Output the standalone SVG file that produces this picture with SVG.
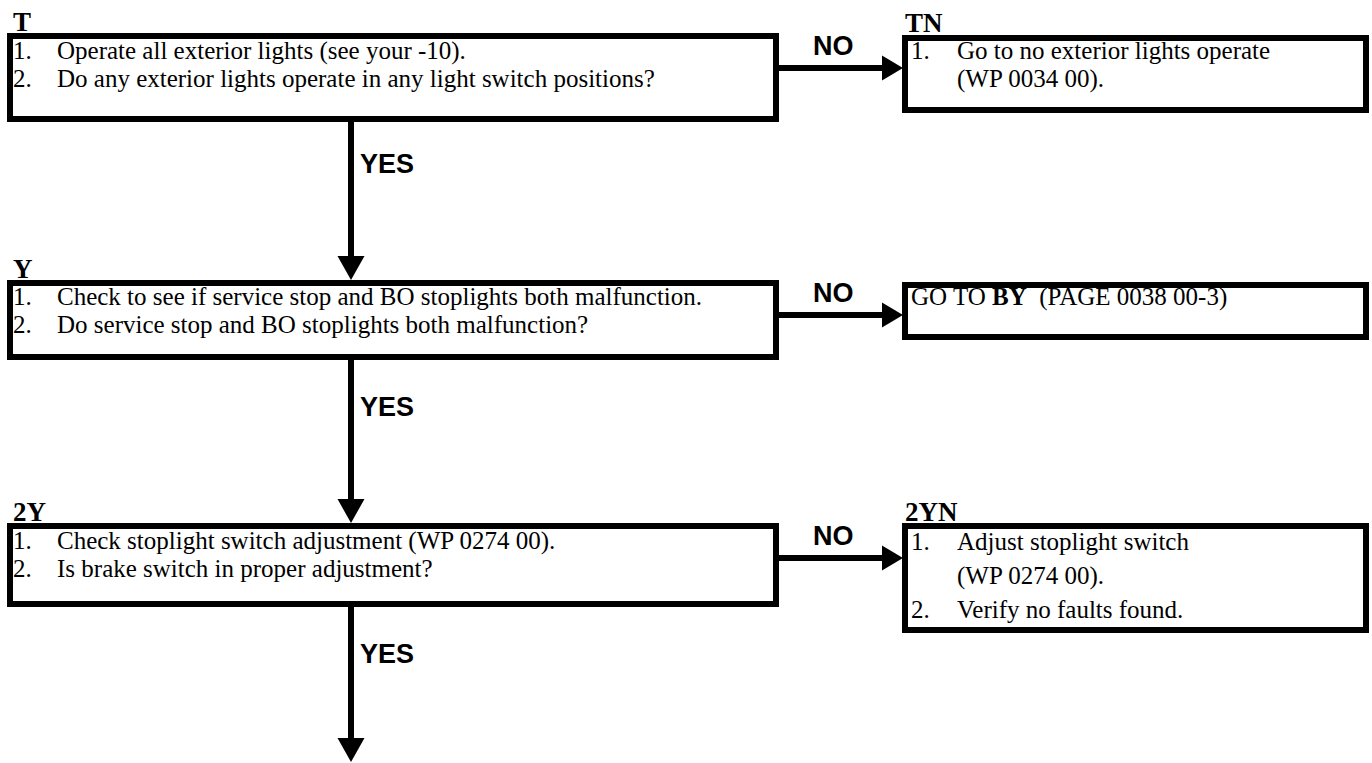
<svg xmlns="http://www.w3.org/2000/svg" width="1372" height="763" viewBox="0 0 1372 763">
<style>
.box{fill:#fff;stroke:#000;stroke-width:6}
.t{font-family:"Liberation Serif","Times New Roman",serif;font-size:25px;fill:#000}
.lbl{font-family:"Liberation Serif","Times New Roman",serif;font-size:27px;font-weight:bold;fill:#000}
.yn{font-family:"Liberation Sans",Arial,sans-serif;font-size:27px;font-weight:bold;fill:#000}
.ln{stroke:#000;stroke-width:6;fill:none}
.ah{fill:#000}
</style>
<rect width="1372" height="763" fill="#fff"/>
<g id="connectors">
<line class="ln" x1="779" y1="68" x2="884" y2="68"/><polygon class="ah" points="882,55.5 903,68 882,80.5"/>
<line class="ln" x1="351" y1="122" x2="351" y2="258"/><polygon class="ah" points="337.5,256 364.5,256 351,280"/>
<line class="ln" x1="779" y1="315" x2="884" y2="315"/><polygon class="ah" points="882,302.5 903,315 882,327.5"/>
<line class="ln" x1="351" y1="360" x2="351" y2="501"/><polygon class="ah" points="337.5,499 364.5,499 351,523"/>
<line class="ln" x1="779" y1="558" x2="884" y2="558"/><polygon class="ah" points="882,545.5 903,558 882,570.5"/>
<line class="ln" x1="351" y1="607" x2="351" y2="740"/><polygon class="ah" points="337.5,738 364.5,738 351,762"/>
<text class="yn" x="813" y="55">NO</text>
<text class="yn" x="360" y="173">YES</text>
<text class="yn" x="813" y="302">NO</text>
<text class="yn" x="360" y="416">YES</text>
<text class="yn" x="813" y="545">NO</text>
<text class="yn" x="360" y="663">YES</text>
</g>
<g id="T">
<text class="lbl" x="13" y="31">T</text>
<rect class="box" x="10" y="36" width="766" height="83"/>
<text class="t" x="13" y="59">1.</text><text class="t" x="57" y="59">Operate all exterior lights (see your -10).</text>
<text class="t" x="13" y="87">2.</text><text class="t" x="57" y="87">Do any exterior lights operate in any light switch positions?</text>
</g>
<g id="TN">
<text class="lbl" x="905" y="32">TN</text>
<rect class="box" x="905" y="38" width="461" height="72"/>
<text class="t" x="911" y="59">1.</text><text class="t" x="957" y="59">Go to no exterior lights operate</text>
<text class="t" x="957" y="87">(WP 0034 00).</text>
</g>
<g id="Y">
<text class="lbl" x="13" y="278">Y</text>
<rect class="box" x="10" y="283" width="766" height="74"/>
<text class="t" x="13" y="305">1.</text><text class="t" x="57" y="305">Check to see if service stop and BO stoplights both malfunction.</text>
<text class="t" x="13" y="333">2.</text><text class="t" x="57" y="333">Do service stop and BO stoplights both malfunction?</text>
</g>
<g id="BY">
<rect class="box" x="905" y="285" width="461" height="52"/>
<text class="t" x="911" y="305" xml:space="preserve">GO TO <tspan font-weight="bold">BY</tspan>  (PAGE 0038 00-3)</text>
</g>
<g id="2Y">
<text class="lbl" x="13" y="521">2Y</text>
<rect class="box" x="10" y="526" width="766" height="78"/>
<text class="t" x="13" y="549">1.</text><text class="t" x="57" y="549">Check stoplight switch adjustment (WP 0274 00).</text>
<text class="t" x="13" y="577">2.</text><text class="t" x="57" y="577">Is brake switch in proper adjustment?</text>
</g>
<g id="2YN">
<text class="lbl" x="905" y="521">2YN</text>
<rect class="box" x="905" y="526" width="461" height="104"/>
<text class="t" x="911" y="550">1.</text><text class="t" x="957" y="550">Adjust stoplight switch</text>
<text class="t" x="957" y="584">(WP 0274 00).</text>
<text class="t" x="911" y="618">2.</text><text class="t" x="957" y="618">Verify no faults found.</text>
</g>
</svg>
